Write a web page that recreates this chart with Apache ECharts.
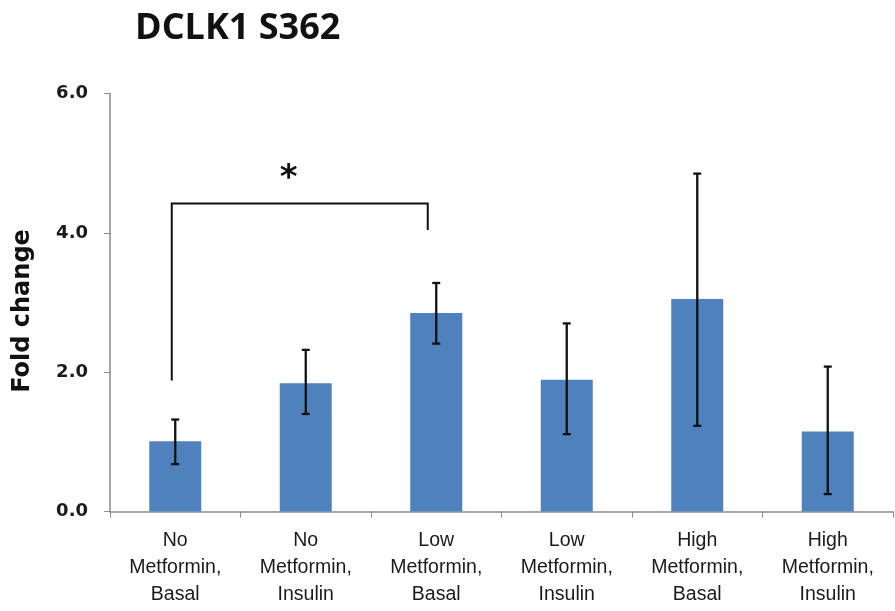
<!DOCTYPE html>
<html>
<head>
<meta charset="utf-8">
<script src="https://cdn.jsdelivr.net/npm/echarts@6/dist/echarts.min.js"></script>
<style>html,body{margin:0;padding:0;background:#fff}#c{width:895px;height:611px}</style>
</head>
<body>
<div id="c"></div>
<script>
const categories = ['No\nMetformin,\nBasal','No\nMetformin,\nInsulin','Low\nMetformin,\nBasal','Low\nMetformin,\nInsulin','High\nMetformin,\nBasal','High\nMetformin,\nInsulin'];
const foldChange = [1.01, 1.84, 2.85, 1.89, 3.05, 1.15];
const errLow = [0.68, 1.40, 2.41, 1.11, 1.23, 0.25];
const errHigh = [1.32, 2.32, 3.28, 2.70, 4.85, 2.08];
const yTicks = [0, 2, 4, 6];
// significance bracket: [from index, to index, top y, left foot y, right foot y, star y]
const bracket = [[0, 2, 4.42, 1.88, 4.04, 4.88]];

const chart = echarts.init(document.getElementById('c'), null, {renderer: 'canvas'});
chart.setOption({
  animation: false,
  title: {
    text: 'DCLK1 S362', left: 130, top: 6,
    textStyle: {fontFamily: 'Open Sans', fontWeight: 'bold', fontSize: 36, color: '#111'}
  },
  graphic: [{
    type: 'text', x: 23, y: 311, rotation: Math.PI / 2,
    style: {text: 'Fold change', fontFamily: 'DejaVu Sans', fontWeight: 'bold', fontSize: 24, fill: '#111', align: 'center', verticalAlign: 'middle'}
  }],
  grid: {left: 110, right: 2, top: 93.5, bottom: 99.5, containLabel: false},
  xAxis: {
    type: 'category', data: categories,
    axisLine: {lineStyle: {color: '#8a8a8a', width: 1.5}},
    axisTick: {show: true, length: 6, lineStyle: {color: '#8a8a8a'}},
    axisLabel: {
      margin: 16, lineHeight: 27, color: '#1a1a1a', interval: 0,
      fontFamily: 'Liberation Sans, sans-serif', fontSize: 19.5
    }
  },
  yAxis: {
    type: 'value', min: 0, max: 6, interval: 2,
    axisLine: {show: true, lineStyle: {color: '#8a8a8a', width: 1.5}},
    axisTick: {show: true, length: 6, lineStyle: {color: '#8a8a8a'}},
    splitLine: {show: false},
    axisLabel: {
      margin: 22, color: '#1a1a1a', fontFamily: 'DejaVu Sans', fontWeight: 'bold', fontSize: 18,
      formatter: v => yTicks.includes(v) ? v.toFixed(1) : ''
    }
  },
  series: [
    {
      type: 'bar', data: foldChange, barWidth: 52,
      itemStyle: {color: '#4F81BD'}
    },
    {
      type: 'custom', z: 5,
      data: foldChange.map((v, i) => [i, errLow[i], errHigh[i]]),
      renderItem: function (params, api) {
        const lo = api.coord([api.value(0), api.value(1)]);
        const hi = api.coord([api.value(0), api.value(2)]);
        const c = 4;
        const st = {stroke: '#111', lineWidth: 2.3};
        return {type: 'group', children: [
          {type: 'line', shape: {x1: hi[0], y1: hi[1], x2: lo[0], y2: lo[1]}, style: st},
          {type: 'line', shape: {x1: hi[0] - c, y1: hi[1], x2: hi[0] + c, y2: hi[1]}, style: st},
          {type: 'line', shape: {x1: lo[0] - c, y1: lo[1], x2: lo[0] + c, y2: lo[1]}, style: st}
        ]};
      }
    },
    {
      type: 'custom', z: 5,
      data: bracket,
      renderItem: function (params, api) {
        const a = api.value(0), b = api.value(1);
        const tl = api.coord([a, api.value(2)]);
        const tr = api.coord([b, api.value(2)]);
        const bl = api.coord([a, api.value(3)]);
        const br = api.coord([b, api.value(4)]);
        const star = api.coord([(a + b) / 2, api.value(5)]);
        const st = {stroke: '#111', lineWidth: 2, fill: 'none'};
        return {type: 'group', children: [
          {type: 'polyline', shape: {points: [[bl[0] - 3.5, bl[1]], [tl[0] - 3.5, tl[1]], [tr[0] - 8.5, tr[1]], [br[0] - 8.5, br[1]]]}, style: st},
          {type: 'text', x: star[0] - 17, y: star[1] + 8, style: {text: '*', fontSize: 34, fontWeight: 'bold', fontFamily: 'DejaVu Sans', fill: '#111', align: 'center', verticalAlign: 'middle'}}
        ]};
      }
    }
  ]
});
</script>
</body>
</html>
